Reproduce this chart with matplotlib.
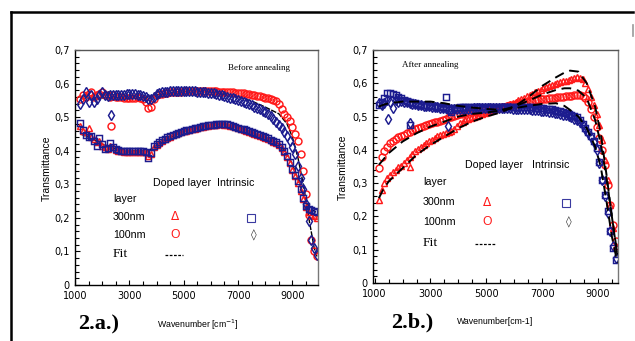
'''Transmittance spectra before and after annealing (fig. 2a / 2b).'''
import matplotlib as mpl
mpl.use('Agg')
import matplotlib.pyplot as plt
from matplotlib.lines import Line2D
from matplotlib.ticker import MultipleLocator, FuncFormatter

W, H = 635, 341

RED = '#ff1a1a'
BLUE = '#1c1c8f'

# ---- 2.a  before annealing (sampled every 100 cm-1)
wn_a = list(range(1200, 9901, 100))

a_doped_100 = [0.555, 0.565, 0.56, 0.57, 0.575, 0.56, 0.565, 0.57, 0.575, 0.565,
               0.565, 0.56, 0.565, 0.56, 0.56, 0.56, 0.558, 0.557, 0.558, 0.558,
               0.558, 0.56, 0.558, 0.555, 0.545, 0.528, 0.53, 0.555, 0.565, 0.568,
               0.57, 0.572, 0.573, 0.574, 0.575, 0.575, 0.576, 0.576, 0.577, 0.577,
               0.577, 0.578, 0.578, 0.578, 0.578, 0.578, 0.578, 0.578, 0.577, 0.577,
               0.577, 0.576, 0.576, 0.575, 0.575, 0.574, 0.574, 0.573, 0.572, 0.572,
               0.571, 0.57, 0.569, 0.567, 0.566, 0.564, 0.562, 0.56, 0.558, 0.556,
               0.553, 0.55, 0.547, 0.54, 0.525, 0.51, 0.5, 0.49, 0.47, 0.45,
               0.43, 0.39, 0.34, 0.27, 0.21, 0.135, 0.1, 0.085]

a_intr_100 = [0.54, 0.555, 0.575, 0.545, 0.565, 0.545, 0.555, 0.565, 0.575, 0.565,
              0.562, 0.565, 0.566, 0.566, 0.567, 0.567, 0.567, 0.568, 0.568, 0.568,
              0.568, 0.567, 0.566, 0.564, 0.56, 0.555, 0.553, 0.56, 0.568, 0.572,
              0.574, 0.575, 0.576, 0.577, 0.577, 0.578, 0.578, 0.578, 0.578, 0.578,
              0.578, 0.577, 0.577, 0.576, 0.576, 0.575, 0.574, 0.573, 0.572, 0.571,
              0.569, 0.567, 0.565, 0.563, 0.561, 0.558, 0.556, 0.553, 0.55, 0.547,
              0.545, 0.542, 0.539, 0.535, 0.531, 0.527, 0.523, 0.519, 0.514, 0.509,
              0.502, 0.495, 0.487, 0.478, 0.468, 0.457, 0.445, 0.43, 0.412, 0.39,
              0.355, 0.32, 0.285, 0.24, 0.19, 0.135, 0.11, 0.088]

a_doped_300 = [0.475, 0.46, 0.455, 0.467, 0.44, 0.435, 0.425, 0.43, 0.415, 0.41,
               0.405, 0.415, 0.41, 0.402, 0.4, 0.398, 0.397, 0.396, 0.396, 0.396,
               0.396, 0.396, 0.397, 0.397, 0.395, 0.385, 0.39, 0.41, 0.418, 0.424,
               0.43, 0.434, 0.438, 0.442, 0.446, 0.449, 0.452, 0.455, 0.458, 0.46,
               0.462, 0.464, 0.466, 0.468, 0.47, 0.472, 0.474, 0.475, 0.476, 0.477,
               0.478, 0.479, 0.479, 0.478, 0.477, 0.475, 0.473, 0.47, 0.467, 0.464,
               0.462, 0.459, 0.456, 0.453, 0.45, 0.447, 0.444, 0.441, 0.438, 0.435,
               0.431, 0.427, 0.423, 0.416, 0.408, 0.395, 0.38, 0.362, 0.343, 0.325,
               0.305, 0.28, 0.255, 0.232, 0.218, 0.21, 0.205, 0.2]

a_intr_300 = [0.482, 0.462, 0.447, 0.44, 0.445, 0.43, 0.414, 0.437, 0.42, 0.404,
              0.408, 0.424, 0.41, 0.404, 0.402, 0.4, 0.4, 0.399, 0.398, 0.398,
              0.398, 0.398, 0.399, 0.399, 0.397, 0.377, 0.392, 0.415, 0.42, 0.426,
              0.432, 0.436, 0.44, 0.444, 0.448, 0.451, 0.454, 0.457, 0.459, 0.461,
              0.463, 0.465, 0.467, 0.469, 0.471, 0.473, 0.475, 0.476, 0.477, 0.478,
              0.48, 0.481, 0.481, 0.48, 0.479, 0.477, 0.475, 0.472, 0.469, 0.466,
              0.464, 0.462, 0.459, 0.456, 0.453, 0.45, 0.447, 0.444, 0.44, 0.437,
              0.433, 0.429, 0.425, 0.419, 0.411, 0.398, 0.383, 0.365, 0.345, 0.328,
              0.31, 0.285, 0.258, 0.235, 0.225, 0.222, 0.22, 0.218]

# stray points
a_out_w = [2321]
a_out_circ = [0.475]
a_out_diam = [0.506]

fit_a_w = [1200, 1500, 2000, 2500, 3000, 3500, 3700, 3900, 4500, 5000, 5500, 6000,
           6500, 7000, 7500, 8000, 8500, 8800, 9000, 9200, 9400, 9600, 9800, 9900]
fit_a_300 = [0.45, 0.44, 0.42, 0.405, 0.40, 0.40, 0.40, 0.41, 0.44, 0.458, 0.47, 0.478,
             0.48, 0.47, 0.455, 0.44, 0.42, 0.39, 0.36, 0.315, 0.27, 0.235, 0.22, 0.215]
fit_a_100 = [0.555, 0.556, 0.557, 0.558, 0.558, 0.558, 0.56, 0.565, 0.573, 0.577, 0.577, 0.575,
             0.568, 0.56, 0.548, 0.53, 0.51, 0.48, 0.44, 0.38, 0.30, 0.2, 0.11, 0.085]

# ---- 2.b  after annealing
wn_b = list(range(1150, 9651, 100))

b_doped_300 = [0.25, 0.28, 0.30, 0.315, 0.325, 0.333, 0.34, 0.347, 0.353, 0.362,
               0.37, 0.378, 0.387, 0.397, 0.403, 0.41, 0.415, 0.42, 0.426, 0.431,
               0.436, 0.441, 0.445, 0.449, 0.452, 0.455, 0.458, 0.462, 0.472, 0.48,
               0.485, 0.489, 0.493, 0.497, 0.5, 0.503, 0.506, 0.509, 0.512, 0.515,
               0.518, 0.521, 0.524, 0.527, 0.53, 0.533, 0.536, 0.539, 0.542, 0.545,
               0.549, 0.553, 0.557, 0.561, 0.565, 0.569, 0.573, 0.577, 0.581, 0.585,
               0.588, 0.591, 0.594, 0.597, 0.6, 0.603, 0.606, 0.608, 0.61, 0.613,
               0.616, 0.618, 0.617, 0.612, 0.6, 0.583, 0.56, 0.535, 0.508, 0.475,
               0.43, 0.37, 0.31, 0.235, 0.165, 0.11]

b_doped_100 = [0.345, 0.38, 0.398, 0.408, 0.42, 0.426, 0.433, 0.438, 0.442, 0.446,
               0.45, 0.455, 0.459, 0.463, 0.466, 0.469, 0.472, 0.475, 0.478, 0.481,
               0.483, 0.485, 0.487, 0.49, 0.494, 0.498, 0.5, 0.503, 0.505, 0.507,
               0.509, 0.511, 0.513, 0.514, 0.516, 0.517, 0.518, 0.519, 0.52, 0.521,
               0.522, 0.523, 0.525, 0.526, 0.528, 0.53, 0.532, 0.534, 0.536, 0.538,
               0.54, 0.541, 0.543, 0.545, 0.546, 0.548, 0.549, 0.551, 0.552, 0.553,
               0.554, 0.555, 0.556, 0.557, 0.558, 0.559, 0.56, 0.561, 0.562, 0.563,
               0.564, 0.565, 0.565, 0.562, 0.556, 0.543, 0.523, 0.498, 0.47, 0.437,
               0.4, 0.355, 0.295, 0.235, 0.175, 0.125]

b_intr_300 = [0.535, 0.545, 0.555, 0.57, 0.572, 0.568, 0.565, 0.558, 0.555, 0.55,
              0.547, 0.545, 0.542, 0.54, 0.538, 0.536, 0.535, 0.534, 0.533, 0.532,
              0.531, 0.53, 0.529, 0.528, 0.527, 0.52, 0.515, 0.525, 0.527, 0.528,
              0.528, 0.528, 0.528, 0.528, 0.528, 0.528, 0.528, 0.528, 0.528, 0.528,
              0.529, 0.529, 0.529, 0.529, 0.53, 0.53, 0.53, 0.53, 0.53, 0.53,
              0.53, 0.53, 0.529, 0.529, 0.528, 0.528, 0.527, 0.527, 0.526, 0.525,
              0.524, 0.523, 0.522, 0.52, 0.518, 0.516, 0.514, 0.511, 0.508, 0.505,
              0.502, 0.498, 0.49, 0.478, 0.466, 0.455, 0.443, 0.428, 0.405, 0.365,
              0.31, 0.265, 0.215, 0.155, 0.105, 0.07]

b_intr_100 = [0.54, 0.535, 0.54, 0.55, 0.545, 0.525, 0.55, 0.545, 0.548, 0.545,
              0.543, 0.541, 0.539, 0.537, 0.535, 0.534, 0.533, 0.532, 0.531, 0.53,
              0.529, 0.528, 0.527, 0.526, 0.525, 0.523, 0.522, 0.523, 0.524, 0.524,
              0.524, 0.524, 0.524, 0.524, 0.525, 0.525, 0.525, 0.525, 0.525, 0.525,
              0.525, 0.525, 0.525, 0.525, 0.525, 0.525, 0.525, 0.525, 0.524, 0.524,
              0.524, 0.523, 0.523, 0.522, 0.522, 0.521, 0.52, 0.519, 0.518, 0.517,
              0.516, 0.515, 0.513, 0.512, 0.51, 0.508, 0.506, 0.504, 0.501, 0.498,
              0.494, 0.49, 0.484, 0.475, 0.464, 0.452, 0.44, 0.425, 0.4, 0.36,
              0.31, 0.26, 0.21, 0.155, 0.11, 0.075]

b_out_tri_w = [2280]
b_out_tri = [0.35]
b_out_sq_w = [2280, 3560]
b_out_sq = [0.475, 0.558]
b_out_diam_w = [1480, 2250, 3630]
b_out_diam = [0.492, 0.48, 0.472]

fit_b_w = [1150, 1300, 1500, 2000, 2500, 3000, 3500, 4000, 4500, 5000, 5500, 6000,
           6500, 7000, 7500, 7800, 8000, 8300, 8600, 8900, 9100, 9300, 9500, 9700]
fit_b_300 = [0.255, 0.28, 0.305, 0.345, 0.385, 0.415, 0.44, 0.465, 0.485, 0.5, 0.512, 0.53,
             0.558, 0.592, 0.618, 0.632, 0.638, 0.635, 0.6, 0.53, 0.45, 0.33, 0.2, 0.08]
fit_b_100 = [0.355, 0.37, 0.39, 0.425, 0.45, 0.47, 0.485, 0.5, 0.508, 0.512, 0.518, 0.53,
             0.547, 0.566, 0.58, 0.585, 0.585, 0.578, 0.555, 0.49, 0.42, 0.32, 0.2, 0.085]
fit_b_intr = [0.53, 0.535, 0.54, 0.545, 0.545, 0.545, 0.54, 0.532, 0.527, 0.523, 0.52, 0.525,
              0.532, 0.538, 0.54, 0.532, 0.52, 0.5, 0.465, 0.41, 0.35, 0.25, 0.14, 0.06]

x_ticks = [1000, 3000, 5000, 7000, 9000]


def fx(x):
    '''Pixel x to figure fraction.'''
    return x / W


def fy(y):
    '''Pixel y (from top) to figure fraction.'''
    return 1 - y / H


def comma(v, pos):
    '''0.3 -> 0,3'''
    if abs(v) < 1e-9:
        return '0'
    return f'{v:.1f}'.replace('.', ',')


def style_axes(ax, xlim, yminor):
    ax.set_xlim(*xlim)
    ax.set_ylim(0, 0.7)
    ax.set_xticks(x_ticks)
    ax.xaxis.set_minor_locator(MultipleLocator(500))
    ax.yaxis.set_major_locator(MultipleLocator(0.1))
    ax.yaxis.set_minor_locator(MultipleLocator(yminor))
    ax.yaxis.set_major_formatter(FuncFormatter(comma))
    ax.tick_params(which='both', direction='in', top=False, right=False,
                   labelsize=7, width=0.8, pad=4)
    ax.tick_params(which='major', length=3.5)
    ax.tick_params(which='minor', length=3)
    for name, sp in ax.spines.items():
        sp.set_linewidth(1.0)
    ax.spines['right'].set_color('#777777')
    ax.spines['top'].set_color('#555555')


def scatter(ax, x, y, marker, color, ms=5.0):
    ax.plot(x, y, linestyle='none', marker=marker, mfc='none', mec=color,
            ms=ms, mew=1.05)


def legend_block(fig, x0, xd, xm, xi, ys, dash_x, fs=7.7):
    '''The hand made legend: x0 label column, xd / xi headers, xm doped marks.'''
    yh, yl, y3, y1, yf = ys
    fam = 'Liberation Sans'
    fig.text(fx(xd), fy(yh), 'Doped layer', fontsize=fs, va='center', family=fam)
    fig.text(fx(xi - 34), fy(yh), 'Intrinsic', fontsize=fs, va='center', family=fam)
    fig.text(fx(x0), fy(yl), 'layer', fontsize=fs, va='center', family=fam)
    fig.text(fx(x0), fy(y3), '300nm', fontsize=fs, va='center', family=fam)
    fig.text(fx(x0), fy(y1), '100nm', fontsize=fs, va='center', family=fam)
    fig.text(fx(x0), fy(yf), 'Fit', fontsize=fs + 2, va='center',
             family='Liberation Serif')
    fig.text(fx(xm), fy(y3), '\u0394', fontsize=fs + 1, va='center', ha='center',
             color=RED, family='DejaVu Sans')
    fig.text(fx(xm), fy(y1), 'O', fontsize=fs + 1, va='center', ha='center',
             color=RED, family='Liberation Sans')
    fig.add_artist(Line2D([fx(xi)], [fy(y3 + 1)], marker='s', mfc='none', mec='#3a3aa0',
                          ms=5.5, mew=0.8, transform=fig.transFigure))
    fig.text(fx(xi + 3), fy(y1), '\u25ca', fontsize=fs + 0.5, va='center', ha='center',
             color='#333333', family='DejaVu Sans')
    fig.add_artist(Line2D([fx(dash_x[0]), fx(dash_x[1])], [fy(yf + 1)] * 2,
                          color='black', lw=0.9, dashes=(2.2, 1.2),
                          transform=fig.transFigure))


def main():
    fig = plt.figure(figsize=(W / 100, H / 100), dpi=100)
    fig.patch.set_facecolor('white')

    # scanned page frame
    fig.add_artist(Line2D([fx(11), fx(11)], [fy(12), fy(341)], color='black', lw=1.8,
                          transform=fig.transFigure))
    fig.add_artist(Line2D([fx(11), fx(633)], [fy(12), fy(12)], color='black', lw=1.8,
                          transform=fig.transFigure))
    fig.add_artist(Line2D([fx(633), fx(633)], [fy(25), fy(36)], color='#999999', lw=1.2,
                          transform=fig.transFigure))

    # ---- 2.a
    ax1 = fig.add_axes([fx(75), fy(285), (318 - 75) / W, (285 - 50) / H])
    style_axes(ax1, (1000, 9940), 0.02)
    ax1.plot(fit_a_w, fit_a_300, color='black', lw=1.0, dashes=(4, 1), zorder=1)
    ax1.plot(fit_a_w, fit_a_100, color='black', lw=1.0, dashes=(4, 1), zorder=1)
    scatter(ax1, wn_a, a_doped_100, 'o', RED)
    scatter(ax1, wn_a, a_doped_300, '^', RED)
    scatter(ax1, wn_a, a_intr_100, 'd', BLUE)
    scatter(ax1, wn_a, a_intr_300, 's', BLUE)
    scatter(ax1, a_out_w, a_out_circ, 'o', RED)
    scatter(ax1, a_out_w, a_out_diam, 'd', BLUE)
    ax1.text(0.63, 0.925, 'Before annealing', transform=ax1.transAxes, fontsize=6.5,
             family='Liberation Serif', va='center')

    fig.text(fx(47), fy(168), 'Transmittance', rotation=90, fontsize=7.5, va='center',
             ha='center', family='Liberation Sans')
    fig.text(fx(78), fy(324), '2.a.)', fontsize=16, fontweight='bold', va='center',
             family='Liberation Serif')
    fig.text(fx(157), fy(325), 'Wavenumber [cm$^{-1}$]', fontsize=6.3, va='center',
             family='Liberation Sans')
    legend_block(fig, 113, 153, 175, 251, (183, 199, 217, 235, 254), (165, 183))

    # ---- 2.b
    ax2 = fig.add_axes([fx(373), fy(283), (618 - 373) / W, (283 - 50) / H])
    style_axes(ax2, (940, 9720), 0.02)
    scatter(ax2, wn_b, b_doped_100, 'o', RED)
    scatter(ax2, wn_b, b_doped_300, '^', RED)
    scatter(ax2, b_out_tri_w, b_out_tri, '^', RED)
    scatter(ax2, wn_b, b_intr_100, 'd', BLUE)
    scatter(ax2, wn_b, b_intr_300, 's', BLUE)
    scatter(ax2, b_out_sq_w, b_out_sq, 's', BLUE)
    scatter(ax2, b_out_diam_w, b_out_diam, 'd', BLUE)
    for fit in (fit_b_300, fit_b_100, fit_b_intr):
        ax2.plot(fit_b_w, fit, color='black', lw=1.4, dashes=(5, 3), zorder=3)
    ax2.text(0.12, 0.935, 'After annealing', transform=ax2.transAxes, fontsize=6.5,
             family='Liberation Serif', va='center')

    fig.text(fx(343), fy(167), 'Transmittance', rotation=90, fontsize=7.5, va='center',
             ha='center', family='Liberation Sans')
    fig.text(fx(391), fy(322), '2.b.)', fontsize=16, fontweight='bold', va='center',
             family='Liberation Serif')
    fig.text(fx(457), fy(322), 'Wavenumber[cm-1]', fontsize=6.3, va='center',
             family='Liberation Sans')
    legend_block(fig, 423, 465, 487, 566, (165, 182, 202, 222, 243), (475, 495))

    fig.savefig('out.png', dpi=100, facecolor='white')


if __name__ == '__main__':
    main()
